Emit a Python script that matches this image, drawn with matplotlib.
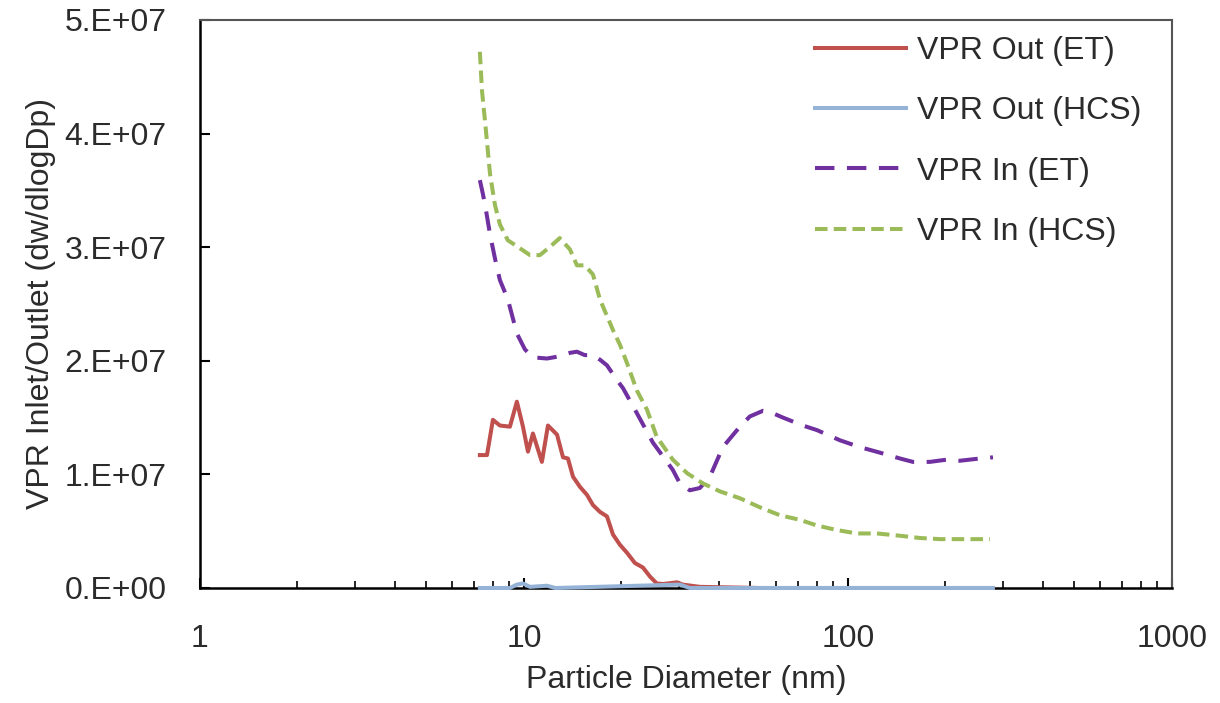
import matplotlib
matplotlib.use("Agg")
from matplotlib import pyplot as plt
from matplotlib.ticker import FixedLocator, FuncFormatter, LogLocator, NullFormatter

# (diameter in nm, dw/dlogDp)
et_out_d = [7.31, 7.69, 8.02, 8.43, 9.05, 9.51, 9.93, 10.29, 10.66, 11.36, 11.86,
            12.65, 13.2, 13.67, 14.17, 14.89, 15.65, 16.33, 17.16, 18.04, 18.83,
            19.79, 20.8, 22.0, 23.3, 24.5, 25.7, 26.9, 29.7, 30.9, 34.9, 53.5,
            126, 280]
et_out_w = [1.17e7, 1.17e7, 1.48e7, 1.43e7, 1.42e7, 1.64e7, 1.42e7, 1.20e7, 1.36e7,
            1.11e7, 1.43e7, 1.35e7, 1.15e7, 1.14e7, 0.98e7, 0.89e7, 0.82e7, 0.73e7,
            0.67e7, 0.63e7, 0.47e7, 0.38e7, 0.31e7, 0.22e7, 0.18e7, 0.10e7, 0.04e7,
            0.035e7, 0.05e7, 0.03e7, 0.01e7, 0, 0, 0]

hcs_out_d = [7.31, 9.05, 9.51, 9.93, 10.44, 11.78, 12.5, 30.3, 32.5, 280]
hcs_out_w = [0, 0, 0.03e7, 0.04e7, 0.01e7, 0.02e7, 0, 0.03e7, 0, 0]

et_in_d = [7.31, 7.48, 7.63, 7.86, 8.14, 8.43, 8.92, 9.51, 10.07, 10.66, 11.78,
           12.9, 13.87, 14.57, 15.4, 16.33, 17.16, 18.04, 19.37, 20.21, 22.3,
           25.0, 28.8, 30.3, 32.5, 34.9, 37.5, 41.1, 46.4, 49.8, 54.7, 57.4,
           63.0, 72.6, 80.2, 94.5, 108.9, 126, 144.7, 158.7, 179, 202, 221.6,
           255.6, 280.3]
et_in_w = [3.59e7, 3.46e7, 3.33e7, 3.11e7, 2.90e7, 2.71e7, 2.54e7, 2.24e7, 2.10e7,
           2.03e7, 2.02e7, 2.04e7, 2.07e7, 2.08e7, 2.05e7, 2.05e7, 2.01e7, 1.96e7,
           1.83e7, 1.76e7, 1.54e7, 1.28e7, 1.04e7, 0.92e7, 0.86e7, 0.88e7, 0.98e7,
           1.24e7, 1.42e7, 1.51e7, 1.56e7, 1.55e7, 1.50e7, 1.43e7, 1.39e7, 1.30e7,
           1.24e7, 1.19e7, 1.14e7, 1.11e7, 1.11e7, 1.13e7, 1.12e7, 1.14e7, 1.15e7]

hcs_in_d = [7.31, 7.42, 7.63, 7.86, 8.14, 8.43, 8.92, 9.38, 10.44, 11.2, 12.0,
            12.9, 13.87, 14.57, 15.4, 16.33, 17.16, 18.83, 19.79, 20.8, 22.3,
            23.97, 25.7, 28.8, 31.9, 35.7, 40.3, 46.4, 53.5, 61.7, 71.1, 80.2,
            92.5, 106.6, 122.9, 144.7, 167, 192.3, 221.6, 274.4]
hcs_in_w = [4.72e7, 4.38e7, 4.03e7, 3.64e7, 3.37e7, 3.20e7, 3.06e7, 3.02e7, 2.93e7,
            2.93e7, 3.00e7, 3.08e7, 2.98e7, 2.84e7, 2.84e7, 2.76e7, 2.54e7, 2.27e7,
            2.14e7, 1.98e7, 1.74e7, 1.57e7, 1.33e7, 1.13e7, 1.01e7, 0.92e7, 0.85e7,
            0.79e7, 0.71e7, 0.64e7, 0.60e7, 0.55e7, 0.51e7, 0.48e7, 0.48e7, 0.46e7,
            0.44e7, 0.43e7, 0.43e7, 0.43e7]

x_ticks = [1, 10, 100, 1000]
y_ticks = [0, 1e7, 2e7, 3e7, 4e7, 5e7]

plt.rcParams['font.family'] = ['Liberation Sans', 'DejaVu Sans']
plt.rcParams['lines.scale_dashes'] = False
txt = '#2b2b2b'
fs = 23

fig = plt.figure(figsize=(12.2, 7.03), dpi=100)
ax = fig.add_axes([0.1639, 0.1636, 0.7967, 0.808])

ax.plot(et_out_d, et_out_w, color='#C0504D', lw=2.9, label='VPR Out (ET)', clip_on=False, zorder=3)
ax.plot(hcs_out_d, hcs_out_w, color='#95B3D7', lw=2.9, label='VPR Out (HCS)', clip_on=False, zorder=4)
ax.plot(et_in_d, et_in_w, color='#7030A0', lw=2.9, dashes=(14, 9), label='VPR In (ET)', zorder=3)
ax.plot(hcs_in_d, hcs_in_w, color='#9BBB59', lw=2.9, dashes=(9, 4.5), label='VPR In (HCS)', zorder=3)

ax.set_xscale('log')
ax.set_xlim(1, 1000)
ax.set_ylim(0, 5e7)

ax.xaxis.set_major_locator(FixedLocator(x_ticks))
ax.xaxis.set_major_formatter(FuncFormatter(lambda v, p: '%d' % v))
ax.xaxis.set_minor_locator(LogLocator(base=10, subs=range(2, 10)))
ax.xaxis.set_minor_formatter(NullFormatter())
ax.yaxis.set_major_locator(FixedLocator(y_ticks))


def excel_fmt(v, pos):
    if v == 0:
        return '0.E+00'
    e = 0
    m = v
    while m >= 10:
        m /= 10
        e += 1
    return '%d.E+%02d' % (round(m), e)


ax.yaxis.set_major_formatter(FuncFormatter(excel_fmt))

ax.tick_params(axis='both', which='major', direction='in', length=7, width=1.5,
               labelsize=fs, labelcolor=txt)
ax.tick_params(axis='y', pad=24)
ax.tick_params(axis='x', pad=26)
ax.tick_params(axis='x', which='minor', direction='in', length=5, width=1.2)

for side in ['left', 'bottom']:
    ax.spines[side].set_linewidth(1.8)
    ax.spines[side].set_color('black')
for side in ['top', 'right']:
    ax.spines[side].set_linewidth(1.5)
    ax.spines[side].set_color('#555555')

ax.set_xlabel('Particle Diameter (nm)', fontsize=fs, color=txt, labelpad=8)
ax.set_ylabel('VPR Inlet/Outlet (dw/dlogDp)', fontsize=fs, color=txt, labelpad=6)

ax.legend(loc='upper left', bbox_to_anchor=(0.633, 0.972), frameon=False, fontsize=fs,
          handlelength=2.85, handletextpad=0.35, labelspacing=0.95, borderpad=0,
          borderaxespad=0, labelcolor=txt)

fig.savefig('out.png', dpi=100)
